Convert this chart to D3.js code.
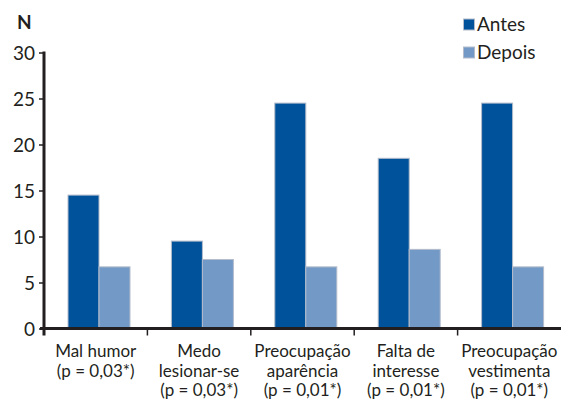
<!DOCTYPE html>
<html><head><meta charset="utf-8">
<script src="https://cdn.jsdelivr.net/npm/d3@7"></script>
<style>body{margin:0;background:#fff}svg{display:block}text{font-family:Lato,"Open Sans",sans-serif;fill:#231f20}</style>
</head><body><svg id="c" width="567" height="401"></svg>
<script>
const categories = [
  ["Mal humor", "(p = 0,03*)"],
  ["Medo", "lesionar-se", "(p = 0,03*)"],
  ["Preocupação", "aparência", "(p = 0,01*)"],
  ["Falta de", "interesse", "(p = 0,01*)"],
  ["Preocupação", "vestimenta", "(p = 0,01*)"]
];
const seriesNames = ["Antes", "Depois"];
const antes = [14.5, 9.5, 24.5, 18.5, 24.5];
const depois = [6.7, 7.5, 6.7, 8.6, 6.7];
const yTicks = [0, 5, 10, 15, 20, 25, 30];
const colors = ["#00529b", "#7399c6"];

const svg = d3.select("#c");
const x0 = 44, x1 = 561, yTop = 52.5, yBot = 328.5;
const cats = categories.map((c, i) => i);
const x = d3.scaleBand().domain(cats).range([x0, x1]).paddingInner(0).paddingOuter(0);
const xs = d3.scaleBand().domain(seriesNames).range([24, 86]).padding(0);
const y = d3.scaleLinear().domain([0, 30]).range([yBot, yTop]);
const values = [antes, depois];

// bars
const g = svg.append("g");
cats.forEach(i => {
  seriesNames.forEach((s, k) => {
    g.append("rect")
      .attr("x", x(i) + xs(s))
      .attr("y", y(values[k][i]))
      .attr("width", xs.bandwidth())
      .attr("height", y(0) - y(values[k][i]))
      .attr("fill", colors[k])
      .attr("stroke", "#b3bccb").attr("stroke-width", 1);
  });
});

// y axis
const yAxis = d3.axisLeft(y).tickValues(yTicks).tickSize(5).tickPadding(4);
const ya = svg.append("g").attr("transform", `translate(${x0},0)`).call(yAxis);
ya.select(".domain").remove();
ya.selectAll(".tick line").attr("stroke", "#231f20").attr("stroke-width", 1.5);
ya.selectAll(".tick text").attr("font-size", 19).attr("font-family", "Lato").attr("fill", "#231f20").attr("dy", "0.36em");
svg.append("line").attr("x1", x0).attr("x2", x0).attr("y1", yTop - 1).attr("y2", yBot + 7)
  .attr("stroke", "#231f20").attr("stroke-width", 3);

// x axis
svg.append("line").attr("x1", x0 - 4).attr("x2", x1).attr("y1", yBot).attr("y2", yBot)
  .attr("stroke", "#231f20").attr("stroke-width", 3);
cats.slice(1).forEach(i => {
  svg.append("line").attr("x1", x(i)).attr("x2", x(i)).attr("y1", yBot).attr("y2", yBot + 7)
    .attr("stroke", "#231f20").attr("stroke-width", 1.5);
});
cats.forEach(i => {
  categories[i].forEach((line, j) => {
    svg.append("text").attr("text-anchor", "middle").attr("font-size", 17)
      .attr("x", x(i) + x.bandwidth() / 2).attr("y", 357 + j * 19.5).text(line);
  });
});

// N label
svg.append("text").attr("x", 17).attr("y", 29).attr("font-size", 19).attr("font-weight", 700).text("N");

// legend
seriesNames.forEach((s, k) => {
  const ly = 19 + k * 28;
  svg.append("rect").attr("x", 463.5).attr("y", ly).attr("width", 11).attr("height", 11)
    .attr("fill", colors[k]).attr("stroke", "#b3bccb").attr("stroke-width", 1);
  svg.append("text").attr("x", 477).attr("y", ly + 11.5).attr("font-size", 19).text(s);
});
</script></body></html>
